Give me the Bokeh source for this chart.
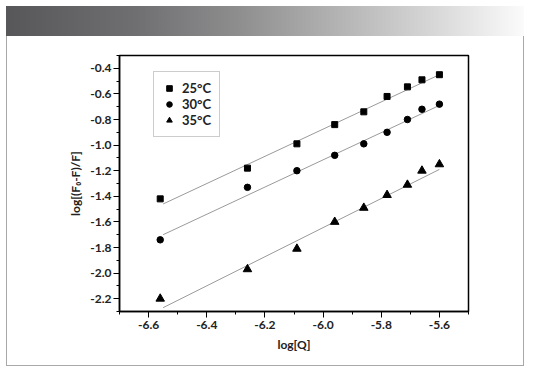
from bokeh.plotting import figure
from bokeh.models import FixedTicker, PrintfTickFormatter, Legend, LegendItem
from bokeh.embed import file_html
from bokeh.resources import INLINE

# ---- data ----
log_q = [-6.56, -6.26, -6.09, -5.96, -5.86, -5.78, -5.71, -5.66, -5.60]
y_25 = [-1.42, -1.18, -0.99, -0.84, -0.74, -0.62, -0.545, -0.49, -0.45]
y_30 = [-1.74, -1.33, -1.20, -1.08, -0.99, -0.90, -0.80, -0.72, -0.68]
y_35 = [-2.20, -1.97, -1.81, -1.60, -1.49, -1.39, -1.31, -1.20, -1.15]
fit_x = [-6.55, -5.60]
fit_25 = [-1.46, -0.45]
fit_30 = [-1.70, -0.69]
fit_35 = [-2.27, -1.19]
legend_labels = ["25°C", "30°C", "35°C"]
x_ticks = [-6.6, -6.4, -6.2, -6.0, -5.8, -5.6]
x_minor = [-6.7, -6.5, -6.3, -6.1, -5.9, -5.7, -5.5]
y_ticks = [-2.2, -2.0, -1.8, -1.6, -1.4, -1.2, -1.0, -0.8, -0.6, -0.4]
y_minor = [-2.3, -2.1, -1.9, -1.7, -1.5, -1.3, -1.1, -0.9, -0.7, -0.5, -0.3]

FONT = "Lato"
TXT = "#222222"
W, H = 524, 366
BOX = "#a8a8a8"

p = figure(width=W, height=H, x_range=(-6.7, -5.5), y_range=(-2.3, -0.3),
           toolbar_location=None, output_backend="svg",
           min_border_left=119, min_border_right=56,
           min_border_top=55, min_border_bottom=55)
# decorative page furniture (grey gradient header band + thin box) drawn
# as CSS background behind the transparent plot border area
line = "linear-gradient(%s, %s)" % (BOX, BOX)
p.styles = {"background": ", ".join([
    "linear-gradient(to right, #575759 0%, #6f6f71 25%, #8e8e8f 45%, "
    "#b5b5b5 65%, #d6d6d6 82%, #fbfbfb 100%) 6px 6px / 518px 30px no-repeat",
    line + " 6px 35px / 518px 1px no-repeat",
    line + " 6px 35px / 1px 331px no-repeat",
    line + " 523px 35px / 1px 331px no-repeat",
    line + " 6px 365px / 518px 1px no-repeat",
    "#ffffff",
])}
p.border_fill_alpha = 0
p.background_fill_color = "white"
p.grid.visible = False
p.outline_line_color = "black"
p.outline_line_width = 1.5

for ax in (p.xaxis[0], p.yaxis[0]):
    ax.axis_line_color = "black"
    ax.axis_line_width = 1.5
    ax.major_tick_line_color = "black"
    ax.minor_tick_line_color = "black"
    ax.major_tick_in = 0
    ax.major_tick_out = 6
    ax.minor_tick_in = 0
    ax.minor_tick_out = 3
    ax.major_label_text_font = FONT
    ax.major_label_text_font_style = "bold"
    ax.major_label_text_font_size = "12px"
    ax.major_label_text_color = TXT
    ax.axis_label_text_font = FONT
    ax.axis_label_text_font_style = "bold"
    ax.axis_label_text_font_size = "12px"
    ax.axis_label_text_color = TXT
    ax.formatter = PrintfTickFormatter(format="%.1f")

p.xaxis.ticker = FixedTicker(ticks=x_ticks, minor_ticks=x_minor)
p.yaxis.ticker = FixedTicker(ticks=y_ticks, minor_ticks=y_minor)
p.xaxis.axis_label = "log[Q]"
p.yaxis.axis_label = "log[(F₀-F)/F]"
p.xaxis.major_label_standoff = 3
p.yaxis.major_label_standoff = 2
p.xaxis.axis_label_standoff = 5
p.yaxis.axis_label_standoff = 4

for fy in (fit_25, fit_30, fit_35):
    p.line(fit_x, fy, line_color="#9a9a9a", line_width=1)

r25 = p.scatter(log_q, y_25, marker="square", size=6, color="black")
r30 = p.scatter(log_q, y_30, marker="circle", size=6.5, color="black")
r35 = p.scatter(log_q, y_35, marker="triangle", size=8.5, color="black")

legend = Legend(items=[LegendItem(label=legend_labels[0], renderers=[r25]),
                       LegendItem(label=legend_labels[1], renderers=[r30]),
                       LegendItem(label=legend_labels[2], renderers=[r35])],
                location=(34, 174))
legend.border_line_color = "#9a9a9a"
legend.border_line_width = 1
legend.background_fill_color = "white"
legend.background_fill_alpha = 1
legend.padding = 8
legend.spacing = 0
legend.margin = 0
legend.glyph_width = 14
legend.glyph_height = 14
legend.label_height = 14
legend.label_standoff = 6
legend.label_text_font = FONT
legend.label_text_font_style = "bold"
legend.label_text_font_size = "13px"
legend.label_text_color = TXT
p.add_layout(legend)

open("out.html", "w").write(file_html(p, INLINE))
